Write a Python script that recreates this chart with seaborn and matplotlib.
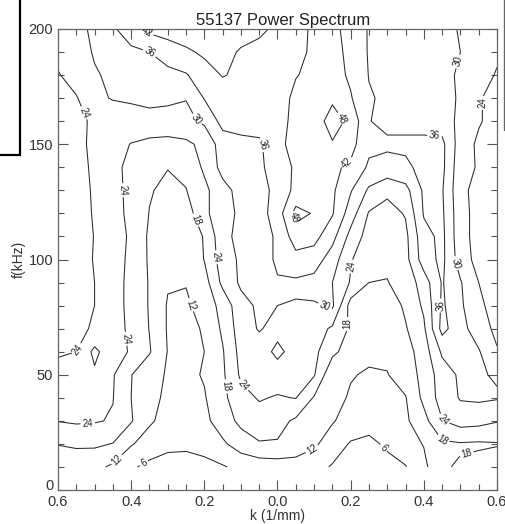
import numpy as np
import matplotlib
matplotlib.use("Agg")
import matplotlib.pyplot as plt
import matplotlib.transforms as mtrans
import seaborn as sns
from matplotlib.lines import Line2D
from matplotlib.ticker import MultipleLocator

# wavenumber grid (1/mm) and frequency grid (kHz)
k_values = [-0.6, -0.55, -0.5, -0.45, -0.4, -0.35, -0.3, -0.25, -0.2, -0.15, -0.1, -0.05,
            0.0, 0.05, 0.1, 0.15, 0.2, 0.25, 0.3, 0.35, 0.4, 0.45, 0.5, 0.55, 0.6]
f_values = [10, 20, 30, 40, 50, 60, 70, 80, 90, 100,
            110, 120, 130, 140, 150, 160, 170, 180, 190, 200]

p010 = [13, 14, 13.5, 11, 6.8, 4.5, 3.5, 3.5, 4, 5.5, 7.5, 8.5, 9, 9, 8, 5.5, 4, 3, 4, 5.7, 10.5, 17.5, 18.5, 20, 21]
p020 = [18.3, 19, 19, 17.8, 12.5, 9.5, 7.5, 7.2, 8.5, 11, 15, 17.5, 17.5, 16, 13, 9, 5.5, 4.5, 7, 9.5, 12.3, 17, 17.5, 17.2, 17.6]
p030 = [24.2, 24.8, 24.5, 23.5, 18.5, 12.8, 10, 9.5, 10.5, 15, 19.5, 21.5, 20, 17, 14, 12.5, 9.5, 8.5, 9, 11, 16, 23.8, 26.5, 26, 24.4]
p040 = [26, 27, 27, 24.2, 18, 13.5, 11, 10.5, 11.5, 16.5, 22, 24.5, 23.5, 24.2, 17.5, 13.5, 11.5, 10.5, 10.5, 11.7, 19.5, 26.5, 30.5, 31, 30.5]
p050 = [25.5, 27, 29, 24.5, 18.2, 14, 11.5, 10.5, 12.5, 17, 25, 27, 27, 27, 24.5, 13, 12.3, 11.5, 11.8, 14.5, 20, 27, 31, 30.5, 29.5]
p060 = [23.5, 24, 31.5, 26, 23.5, 18.5, 11.8, 10, 12, 17.5, 26, 27, 31.5, 27.5, 25.5, 19.5, 15, 13, 13, 15.5, 21, 31, 33, 30.5, 24.5]
p070 = [22, 23, 24.5, 26, 23, 17.8, 11.5, 10.5, 12.5, 19, 27, 30.5, 28, 27, 27, 23, 17, 14, 14, 17.5, 23, 38, 32, 27, 22.5]
p080 = [21.5, 22.5, 24, 25.5, 23, 17.5, 11.5, 11, 14.5, 20, 28, 31, 30, 28, 29, 31, 15.5, 14, 14.5, 19, 25, 37, 31, 25, 22]
p090 = [21, 22.5, 24, 25.5, 23, 17.5, 12.5, 12.3, 15.5, 25.5, 31, 33.5, 35.5, 35, 34, 30, 23.5, 18, 17.8, 20, 27, 36.5, 30.5, 24, 21.5]
p100 = [21, 22.5, 24.2, 26, 23, 17.2, 13, 13, 18.2, 27, 31, 33, 37, 40, 39, 33, 24.5, 20, 19, 22, 33, 37.5, 27, 22, 21]
p110 = [21, 22.5, 24.1, 25.5, 23.5, 17, 13.5, 13.5, 18.5, 28, 32, 33, 37, 45, 44, 38, 28, 21.5, 20, 22.5, 34, 37.5, 26, 22, 21]
p120 = [21.5, 23, 24.2, 25.5, 23, 17.8, 14.5, 15, 22.5, 28, 31, 33.5, 39, 50, 47.5, 42.5, 33, 23.5, 21.5, 24.5, 36.5, 37, 26, 22, 21]
p130 = [21.5, 23, 24.3, 25.5, 22.8, 18.5, 16.5, 17.8, 22.5, 28, 32, 33.5, 38, 43.5, 45, 43, 36.5, 29, 25.5, 28, 37, 36.5, 25.5, 22, 21]
p140 = [21.5, 23, 24.5, 25.5, 22.5, 19.5, 18.2, 19.5, 25, 32, 34, 35, 38.5, 43, 44, 43, 41, 35, 34, 35, 37.5, 37.5, 26, 23.5, 22]
p150 = [21.5, 23, 24.8, 26, 23.8, 22.5, 22, 22.8, 25.5, 33, 34, 35, 40.5, 44, 45, 47.5, 44, 37.5, 37, 37, 37, 37.5, 27, 23, 21.5]
p160 = [21, 22.5, 25, 27, 27.5, 28, 28, 28.5, 31, 38, 39, 38.5, 40, 43.5, 45, 50.5, 46.5, 36.2, 34.5, 34.5, 34.5, 33, 28.5, 24.5, 22]
p170 = [22, 23.5, 29, 30.3, 30.8, 31.5, 31, 30.2, 36.3, 39, 40, 39.5, 40, 43, 45, 47, 42.5, 36.5, 35, 34, 33, 31.5, 29.5, 24.5, 22]
p180 = [23.5, 27, 29.5, 31, 32.5, 33.5, 34.5, 35.5, 39.5, 42.3, 41, 40, 39.5, 41.8, 43, 44.5, 41, 35.8, 34, 33.5, 33, 31, 29.5, 26.5, 23.5]
p190 = [26, 27.5, 30.5, 33, 34.5, 36, 38.5, 41, 43, 43.5, 41.5, 40.5, 40, 40.5, 43, 44, 40.5, 35.5, 34, 33.5, 33, 32, 30, 27, 25]
p200 = [27, 28.5, 31, 35, 40, 43.5, 45, 45.5, 45, 44.5, 44, 43, 41, 40, 43, 43.5, 40, 35.5, 34, 33.5, 33, 32, 29.5, 27.5, 26]

levels = [6, 12, 18, 24, 30, 36, 42, 48]
x_ticks = [-0.6, -0.4, -0.2, 0.0, 0.2, 0.4, 0.6]
x_tick_labels = ["0.6", "0.4", "0.2", "0.0", "0.2", "0.4", "0.6"]
y_ticks = [0, 50, 100, 150, 200]

power = np.array([p010, p020, p030, p040, p050, p060, p070, p080, p090, p100,
                  p110, p120, p130, p140, p150, p160, p170, p180, p190, p200])
K, F = np.meshgrid(np.array(k_values), np.array(f_values))

sns.set_theme(style="ticks")
plt.rcParams['font.family'] = ['Liberation Sans', 'DejaVu Sans']

fig = plt.figure(figsize=(5.06, 5.24), dpi=100)
fig.patch.set_facecolor("white")
ax = fig.add_axes([58 / 506, 1 - 490 / 524, (497 - 58) / 506, (490 - 29) / 524])
ax.set_facecolor("white")

cs = ax.contour(K, F, power, levels=levels, colors="#2b2b2b", linewidths=0.75)

label_spots = [(-0.36, 198), (-0.348, 190), (-0.217, 161), (-0.54, 163), (-0.436, 130),
               (-0.225, 117), (-0.163, 101), (-0.547, 61), (-0.389, 66), (-0.22, 81),
               (-0.518, 27), (-0.438, 13), (-0.367, 12), (-0.138, 45), (-0.097, 45),
               (0.10, 16), (0.28, 17), (0.444, 16), (0.52, 14), (0.45, 30),
               (0.19, 72), (0.13, 80), (0.198, 97), (0.446, 80), (0.477, 98),
               (0.19, 142), (0.042, 118), (-0.012, 150), (0.184, 162), (0.43, 155),
               (0.49, 186), (0.56, 168)]
ax.clabel(cs, fmt="%d", fontsize=7, inline=True, inline_spacing=2,
          manual=label_spots, colors="#222222")

ax.set_xlim(-0.6, 0.6)
ax.set_ylim(0, 200)
ax.set_xticks(x_ticks)
ax.set_xticklabels(x_tick_labels)
ax.set_yticks(y_ticks)
ax.xaxis.set_minor_locator(MultipleLocator(0.05))
ax.yaxis.set_minor_locator(MultipleLocator(10))
ax.tick_params(which="both", direction="in", top=True, right=True, colors="#555555",
               labelcolor="#333333", labelsize=10.5, width=0.8)
ax.tick_params(which="major", length=7)
ax.tick_params(which="minor", length=4)
for sp in ax.spines.values():
    sp.set_color("#666666")
    sp.set_linewidth(0.9)

# the "0" label of the frequency axis sits a little above its tick
zero_lbl = ax.get_yticklabels()[0]
zero_lbl.set_transform(zero_lbl.get_transform() +
                       mtrans.ScaledTranslation(0, 5 / 100, fig.dpi_scale_trans))

ax.set_title("55137 Power Spectrum", fontsize=12, color="#222222", pad=3, x=0.513)
ax.set_xlabel("k (1/mm)", fontsize=10, color="#333333", labelpad=0)
ax.set_ylabel("f(kHz)", fontsize=10, color="#333333", labelpad=2)

# scan artifacts around the figure
fig.add_artist(Line2D([20 / 506, 20 / 506], [1, 1 - 155 / 524], transform=fig.transFigure,
                      color="black", lw=1.6))
fig.add_artist(Line2D([0, 20 / 506], [1 - 155 / 524, 1 - 155 / 524], transform=fig.transFigure,
                      color="black", lw=1.6))
fig.add_artist(Line2D([504 / 506, 504 / 506], [1, 1 - 130 / 524], transform=fig.transFigure,
                      color="#666666", lw=1.0))

fig.savefig("out.png", dpi=100, facecolor="white")
